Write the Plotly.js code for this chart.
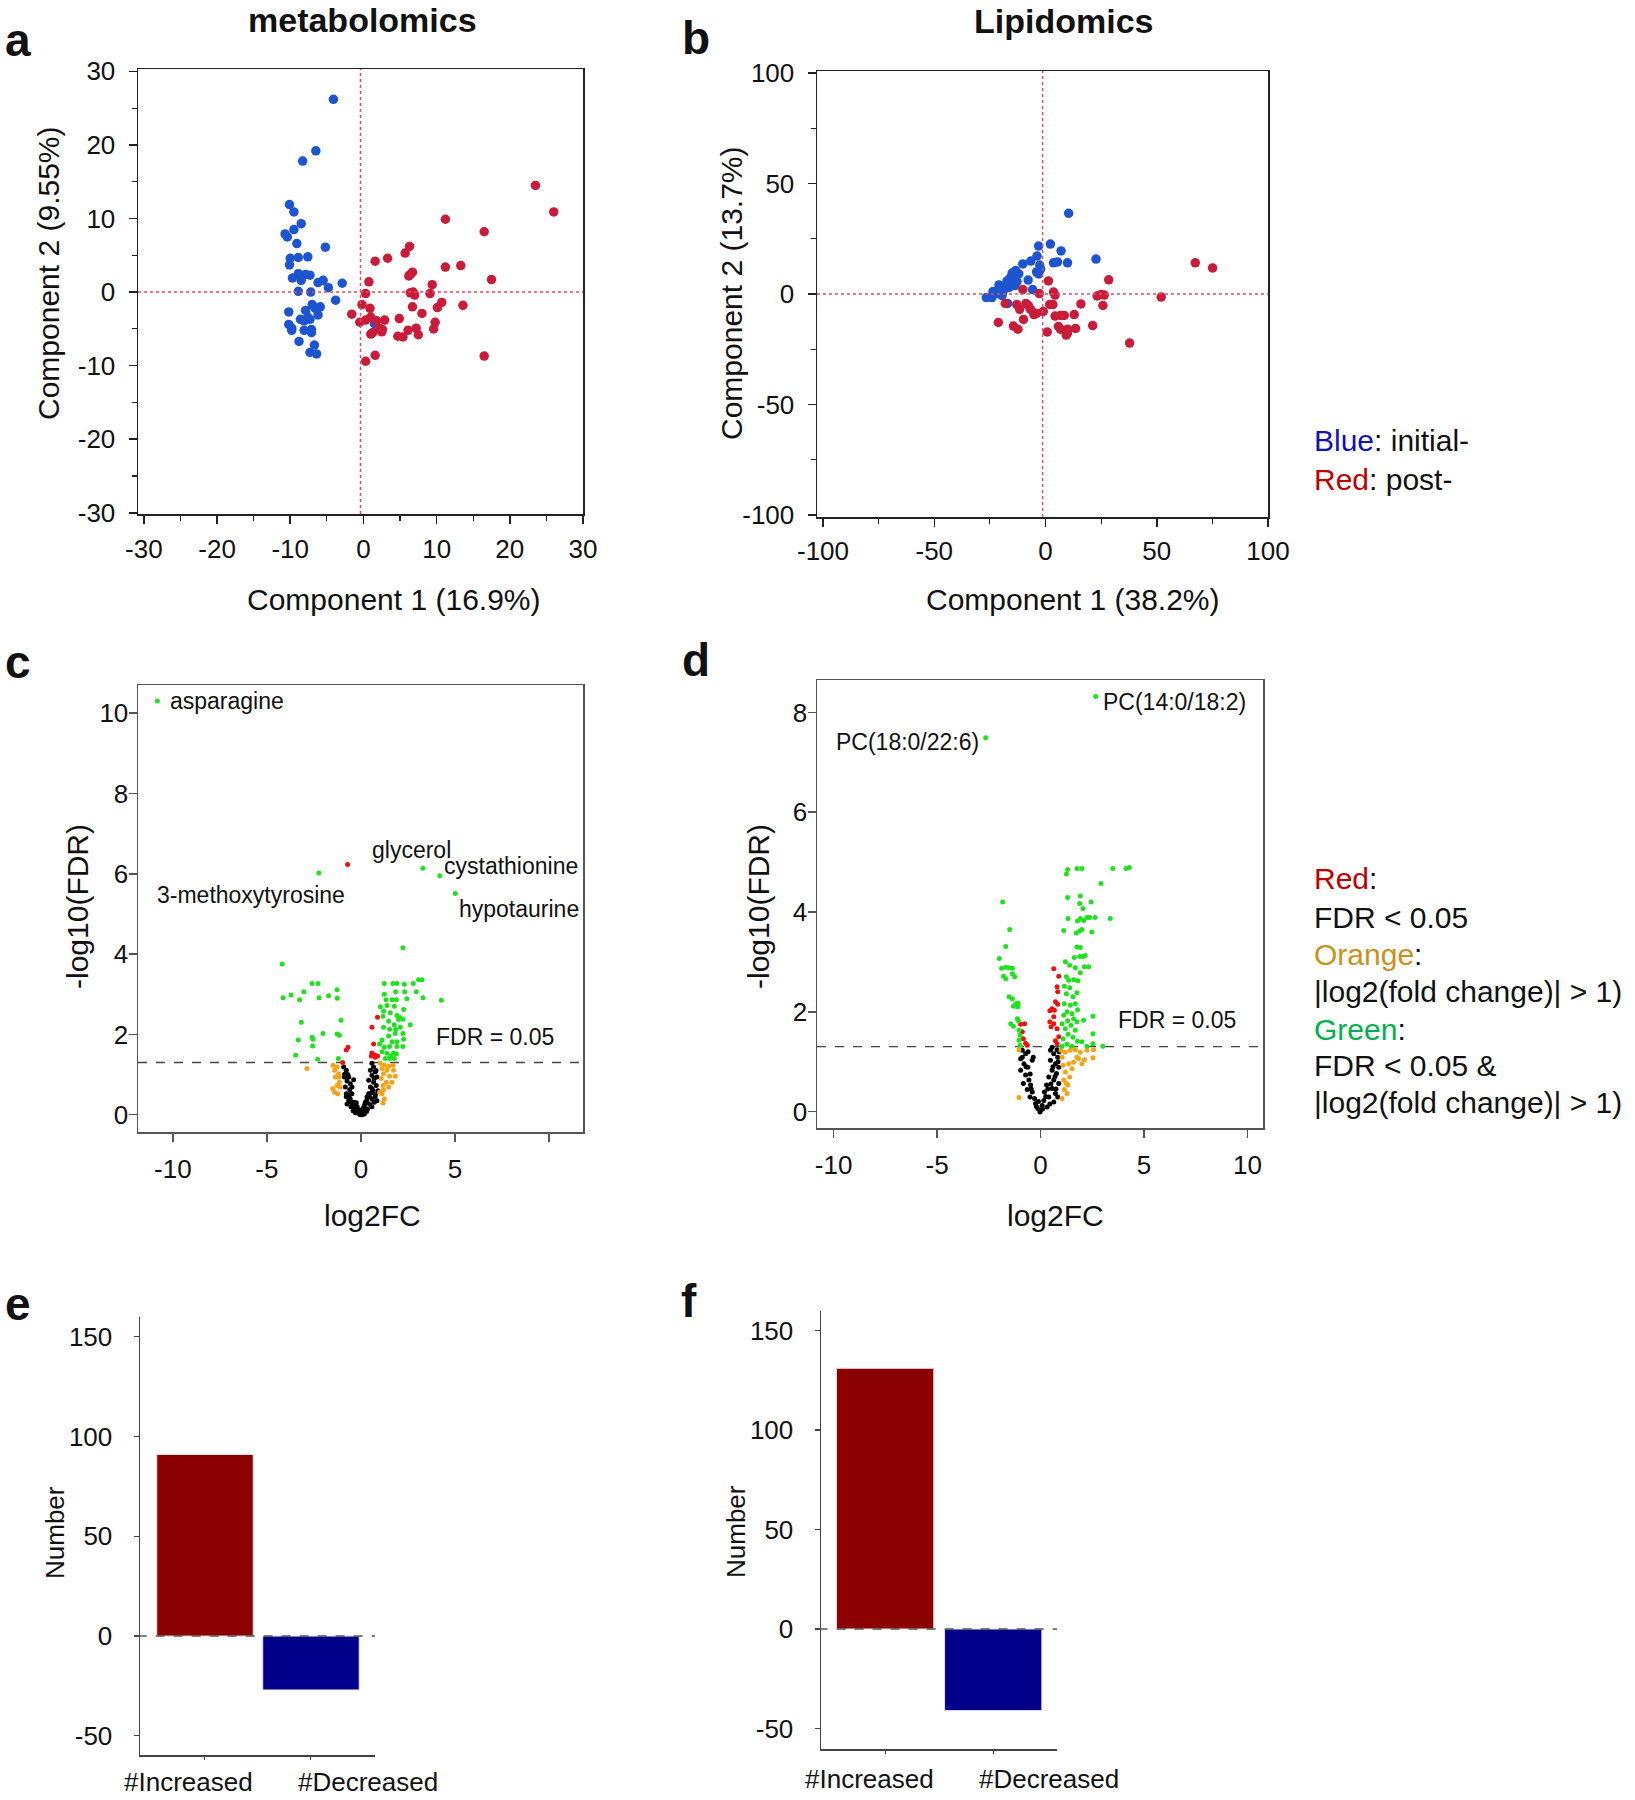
<!DOCTYPE html>
<html><head><meta charset="utf-8">
<script src="https://cdn.plot.ly/plotly-3.0.1.min.js"></script>
<style>html,body{margin:0;padding:0;background:#fff;}#chart{width:1635px;height:1800px;}</style>
</head><body><div id="chart"></div>
<script>
// ---------- PCA metabolomics (a) ----------
const metaBlueX = [-4.1,-6.5,-8.3,-10.1,-9.5,-8.5,-9.5,-10.7,-10.4,-9.1,
 -5.2,-10.0,-8.9,-7.6,-10.1,-8.9,-7.9,-7.3,-9.7,-8.5,
 -6.2,-5.5,-4.8,-2.9,-8.9,-7.2,-3.8,-10.2,-7.0,-6.6,
 -5.9,-7.9,-7.6,-6.2,-8.6,-8.1,-7.3,-10.2,-9.8,-9.8,
 -8.1,-7.1,-7.1,-8.8,-6.7,-7.3,-6.4,1.5];
const metaBlueY = [26.2,19.2,17.8,11.9,10.9,9.3,8.5,7.9,7.5,6.6,
 6.1,4.6,4.7,4.8,3.7,2.5,2.4,2.3,1.9,1.6,
 1.3,1.6,0.6,1.2,0.1,0.0,-1.1,-2.7,-1.7,-2.2,
 -2.0,-2.5,-3.4,-3.1,-3.7,-3.9,-3.7,-4.4,-4.9,-5.2,
 -5.2,-5.1,-5.5,-6.7,-7.2,-8.2,-8.4,-4.3];
const metaRedX = [23.5,26.0,11.2,16.5,6.3,5.7,3.3,1.6,13.3,11.2,
 6.7,6.4,6.2,17.5,0.75,9.4,0.3,6.4,6.8,7.0,
 9.1,10.7,10.1,13.6,6.7,-0.2,0.9,-1.6,8.0,1.0,
 2.9,4.9,-0.5,0.3,1.8,9.8,2.2,2.6,7.2,9.6,
 1.0,1.3,2.5,6.1,4.7,5.4,7.5,0.3,1.6,16.5];
const metaRedY = [14.5,10.9,9.9,8.2,6.2,5.3,4.6,4.2,3.6,3.4,
 2.7,2.4,2.2,1.7,1.4,1.0,-0.2,-0.1,0.0,-0.4,
 -0.2,-1.4,-2.1,-1.8,-2.0,-1.7,-2.2,-3.0,-2.9,-3.4,
 -3.8,-3.6,-4.1,-3.8,-3.9,-4.1,-4.9,-5.1,-4.9,-5.0,
 -5.7,-5.5,-5.4,-5.2,-6.0,-6.1,-5.8,-9.4,-8.6,-8.7];

// ---------- PCA lipidomics (b) ----------
const lipidBlueX = [10.4,2.2,-3.1,7.0,22.7,-3.8,3.6,5.4,9.9,-10.2,
 -6.6,-2.6,-2.2,-4.0,-3.1,-13.4,-12.0,-15.0,-7.8,-15.8,
 -14.0,-17.3,-12.8,-14.6,-18.2,-20.9,-16.4,-5.8,-23.6,-21.2,
 -19.5,-26.6,-24.1,-17.0,-19.1,-13.8];
const lipidBlueY = [36.5,22.6,21.7,19.5,15.8,17.2,14.1,14.5,14.1,13.6,
 14.9,13.1,11.3,10.0,9.1,10.6,9.1,9.5,6.3,7.3,
 6.4,5.9,5.6,4.1,3.4,4.1,2.9,2.0,1.1,0.2,
 -0.7,-1.6,-1.6,-4.3,1.1,3.8];
const lipidRedX = [67.3,75.1,28.4,1.3,-10.2,-2.8,3.6,4.3,23.2,25.0,
 26.4,52.0,-18.1,-12.9,-8.8,-7.7,-11.6,-6.7,1.9,3.3,
 15.9,25.8,-1.0,-5.2,4.3,6.8,8.4,12.9,-9.9,-21.2,
 -14.4,-12.4,5.8,0.8,6.7,9.9,13.5,21.2,9.3,9.9,
 37.8,-4.0];
const lipidRedY = [14.1,11.8,6.4,5.9,2.0,0.2,0.9,-0.5,-0.9,-0.2,
 -0.5,-1.4,-4.3,-4.8,-4.3,-5.2,-7.0,-7.0,-4.7,-4.8,
 -4.5,-5.2,-7.9,-9.3,-10.0,-9.7,-9.7,-9.3,-11.5,-12.9,
 -14.5,-15.9,-14.7,-17.2,-15.9,-15.9,-15.6,-14.3,-18.6,-17.7,
 -22.2,-8.8];

// ---------- Volcano metabolomics (c) ----------
const metGreenX = [-10.82,-2.24,3.29,4.19,5.01,
 -4.19,-2.60,-2.28,-3.04,-4.14,-3.72,-3.26,-2.23,-1.72,-1.27,
 -1.26,-3.17,-1.06,-3.33,-2.60,-2.55,-2.02,-1.27,-1.15,-2.57,
 -3.47,-2.30,-1.20,
 2.23,1.24,1.70,1.91,2.30,2.78,3.06,3.24,4.27,1.24,
 1.84,2.32,2.94,3.29,1.33,1.65,1.88,2.44,1.03,1.38,
 1.77,2.27,1.20,1.56,1.17,1.91,2.05,2.23,1.47,1.77,
 2.00,2.62,1.20,1.52,1.84,2.09,1.82,1.47,1.12,2.23,
 1.65,1.91,2.27,0.99,1.24,1.52,1.91,2.23,1.12,1.38,
 1.73,1.59,1.88,1.29,1.52,1.77];
const metGreenY = [10.30,6.02,6.14,5.95,5.51,
 3.75,3.27,3.27,3.06,2.91,2.98,2.86,2.91,2.96,3.11,
 2.90,2.30,2.35,1.86,1.93,1.88,2.02,2.01,1.98,1.71,
 1.48,1.38,1.40,
 4.16,3.27,3.27,3.27,3.25,3.27,3.36,3.36,2.85,3.00,
 3.06,3.06,3.06,2.91,2.86,2.86,2.86,2.89,2.69,2.72,
 2.70,2.62,2.58,2.54,2.45,2.47,2.43,2.38,2.33,2.24,
 2.37,2.24,2.18,2.13,2.12,2.18,2.02,1.96,1.86,2.02,
 1.82,1.82,1.88,1.76,1.68,1.70,1.70,1.70,1.57,1.53,
 1.54,1.46,1.51,1.40,1.40,1.40];
const metRedX = [-0.71,-0.69,-0.78,-0.97,0.88,0.58,0.67,0.58,0.73,0.55,0.88,0.76];
const metRedY = [6.23,1.68,1.61,1.30,2.43,2.18,1.76,1.54,1.49,1.46,1.46,1.43];
const metOrangeX = [-2.87,-1.49,-1.27,-1.40,-1.19,-1.36,-1.15,-1.27,-1.10,-1.50,
 -1.40,-1.24,-1.15,1.03,1.24,1.47,1.70,1.12,1.38,1.73,
 1.20,1.52,1.82,1.08,1.35,1.17,1.47,1.20,1.12,1.24,
 1.17,1.65,0.99];
const metOrangeY = [1.15,1.23,1.19,1.11,1.02,0.94,0.81,0.73,0.69,0.65,
 0.56,0.52,0.94,1.28,1.23,1.21,1.23,1.15,1.11,1.11,
 1.02,0.96,0.96,0.90,0.81,0.73,0.69,0.62,0.52,0.39,
 0.29,0.81,0.56];
const metBlackX = [-0.92,-0.78,-0.87,-0.65,-0.74,-0.57,-0.83,-0.60,-0.48,-0.78,
 -0.57,-0.39,-0.74,-0.53,-0.35,-0.21,-0.12,-0.04,-0.42,-0.30,
 -0.65,-0.78,-0.48,-0.39,-0.88,
 0.58,0.67,0.50,0.76,0.58,0.85,0.41,0.67,0.81,0.50,
 0.64,0.41,0.76,0.32,0.58,0.23,0.46,0.14,0.35,0.11,
 0.23,0.05,0.18,0.58,0.85,0.71,
 -0.30,0.30,-0.20,0.20,-0.50,0.45,-0.60,0.60,0.70,-0.70,
 0.80,0.90,-0.10,0.10,0.00,0.30,-0.25,0.55,0.75];
const metBlackY = [1.19,1.11,1.01,0.94,0.84,0.77,0.69,0.62,0.52,0.45,
 0.39,0.31,0.27,0.20,0.14,0.10,0.03,0.00,0.10,0.23,
 0.35,0.52,0.69,0.87,0.94,
 1.28,1.19,1.11,1.07,0.98,0.94,0.86,0.81,0.73,0.69,
 0.60,0.52,0.50,0.44,0.39,0.31,0.27,0.18,0.14,0.06,
 0.10,0.00,0.02,0.20,0.35,0.31,
 0.05,0.08,0.20,0.25,0.30,0.45,0.50,0.65,0.90,1.00,
 1.10,0.60,0.12,0.15,0.05,0.35,0.30,0.55,0.45];
const metLabelText = ['asparagine','3-methoxytyrosine','glycerol','cystathionine','hypotaurine'];
const metLabelX = [-10.23,-5.87,2.66,7.97,8.39];
const metLabelY = [10.30,5.46,6.59,6.19,5.13];
const metLabelAnchor = ['left','center','center','center','center'];

// ---------- Volcano lipidomics (d) ----------
const lipGreenX = [2.67,-2.65,
 -1.83,-1.49,-1.68,-1.99,-1.88,-1.68,-1.52,-1.36,-1.79,-1.68,
 -1.36,-1.25,-1.52,-1.36,-1.20,-1.09,-1.31,-1.09,-1.12,-1.07,
 -1.44,-1.31,-1.04,-0.99,-1.04,-0.99,
 1.31,1.25,1.76,2.00,3.49,4.13,4.29,2.92,1.31,1.92,
 1.89,2.05,2.44,1.33,1.79,1.92,2.08,2.24,2.37,2.64,
 3.37,1.12,1.73,1.89,2.00,2.48,1.76,1.92,1.63,1.89,
 2.05,2.16,1.20,1.41,1.68,2.12,2.32,1.92,1.25,1.36,
 1.60,1.81,1.15,1.41,1.76,1.25,1.57,1.15,1.44,1.68,
 1.79,1.28,1.52,1.12,1.60,1.31,1.76,2.08,2.53,1.04,
 1.47,1.20,1.68,1.33,1.57,2.53,1.09,1.79,2.00,1.28,
 2.53,3.01,1.04,1.52,2.24];
const lipGreenY = [8.32,7.49,
 4.20,3.65,3.31,3.07,2.87,2.89,2.88,2.87,2.71,2.66,
 2.76,2.70,2.30,2.26,2.16,2.17,2.11,2.10,1.86,1.82,
 1.76,1.71,1.63,1.53,1.43,1.33,
 4.85,4.76,4.87,4.87,4.87,4.87,4.89,4.57,4.29,4.32,
 4.17,4.07,4.20,3.87,3.82,3.87,3.83,3.89,3.89,3.89,
 3.87,3.63,3.58,3.62,3.65,3.60,3.30,3.29,3.09,3.11,
 3.11,3.13,3.00,2.93,2.88,2.90,2.90,2.78,2.70,2.63,
 2.64,2.62,2.51,2.48,2.38,2.36,2.30,2.16,2.13,2.16,
 2.04,2.00,1.96,1.93,1.86,1.82,1.80,1.83,1.91,1.76,
 1.73,1.66,1.63,1.55,1.49,1.56,1.46,1.41,1.40,1.35,
 1.36,1.31,1.31,1.31,1.31];
const lipRedX = [-0.96,-0.77,-0.88,-0.83,-0.72,-0.64,
 0.64,0.88,0.80,0.83,0.72,0.83,0.56,0.67,0.45,0.64,
 0.45,0.64,0.51,0.80,0.88,0.72,0.80];
const lipRedY = [1.75,1.76,1.60,1.46,1.37,1.33,
 2.86,2.71,2.50,2.40,2.20,2.15,2.06,2.03,2.02,1.90,
 1.80,1.76,1.70,1.66,1.50,1.42,1.36];
const lipOrangeX = [-1.04,-1.04,
 0.99,1.20,1.44,1.68,1.92,2.24,2.56,2.53,2.12,1.84,
 1.60,1.36,1.09,1.52,1.20,1.41,1.12,1.31,1.15,1.28,
 1.04,1.76,2.00,1.04,1.25];
const lipOrangeY = [0.28,1.24,
 1.23,1.19,1.23,1.24,1.19,1.23,1.24,1.08,1.04,1.06,
 0.99,0.96,0.93,0.86,0.79,0.69,0.63,0.53,0.44,0.36,
 0.26,1.09,0.96,1.09,0.56];
const lipBlackX = [-0.88,-0.72,-0.96,-0.80,-0.61,-0.96,-0.72,-0.56,-0.83,-0.48,
 -0.64,-0.40,-0.51,-0.29,-0.24,-0.13,-0.03,-0.40,-0.35,-0.88,
 0.56,0.80,0.64,0.83,0.48,0.72,0.88,0.56,0.77,0.40,
 0.64,0.88,0.29,0.56,0.19,0.72,0.40,0.16,0.64,0.08,
 0.32,0.00,0.83,0.48,
 -0.70,-0.50,-0.45,-0.20,0.25,0.50,0.70,0.85,0.60,0.35,
 0.10,-0.10,0.45,0.75,0.90,-0.60];
const lipBlackY = [1.23,1.16,1.06,0.96,0.89,0.83,0.73,0.63,0.56,0.53,
 0.44,0.39,0.29,0.26,0.16,0.06,-0.01,1.03,1.09,1.09,
 1.29,1.24,1.16,1.09,1.03,0.96,0.89,0.83,0.76,0.69,
 0.63,0.56,0.53,0.46,0.39,0.36,0.29,0.22,0.19,0.12,
 0.09,0.02,0.29,1.23,
 0.90,0.75,0.45,0.10,0.30,0.55,0.70,1.00,0.90,0.45,
 0.05,0.20,0.15,0.45,1.20,1.20];
const lipLabelText = ['PC(14:0/18:2)','PC(18:0/22:6)'];
const lipLabelX = [2.91,-2.86];
const lipLabelY = [8.21,7.40];
const lipLabelAnchor = ['left','right'];

const fdrCutoff = 0.05;

// ---------- Bar counts (e, f) ----------
const barCategories = ['#Increased','#Decreased'];
const metCounts = [91,-27];
const lipCounts = [131,-41];

// ---------- drawing ----------
const W = 1635, H = 1800;
const FONT = 'Liberation Sans, Arial, Helvetica, sans-serif';
const dx = (a,b) => [a/W, b/W];
const dy = (top,bot) => [1-bot/H, 1-top/H];
const PCA_BLUE = '#1d55d0', PCA_RED = '#c81c3a';
const V_GREEN = '#1fe21f', V_RED = '#ee1111', V_ORANGE = '#f5a316', V_BLACK = '#000000';

function pts(x,y,color,size,xa,ya){
  return {type:'scatter',mode:'markers',x:x,y:y,xaxis:xa,yaxis:ya,
    marker:{color:color,size:size,line:{width:0}},hoverinfo:'skip',showlegend:false};
}
const traces = [
  pts(metaBlueX,metaBlueY,PCA_BLUE,9.5,'x','y'),
  pts(metaRedX,metaRedY,PCA_RED,9.5,'x','y'),
  pts(lipidBlueX,lipidBlueY,PCA_BLUE,9.5,'x2','y2'),
  pts(lipidRedX,lipidRedY,PCA_RED,9.5,'x2','y2'),
  pts(metBlackX,metBlackY,V_BLACK,5,'x3','y3'),
  pts(metOrangeX,metOrangeY,V_ORANGE,5,'x3','y3'),
  pts(metRedX,metRedY,V_RED,5,'x3','y3'),
  pts(metGreenX,metGreenY,V_GREEN,5,'x3','y3'),
  pts(lipBlackX,lipBlackY,V_BLACK,5,'x4','y4'),
  pts(lipOrangeX,lipOrangeY,V_ORANGE,5,'x4','y4'),
  pts(lipRedX,lipRedY,V_RED,5,'x4','y4'),
  pts(lipGreenX,lipGreenY,V_GREEN,5,'x4','y4'),
  {type:'bar',x:barCategories,y:metCounts,xaxis:'x5',yaxis:'y5',width:0.91,
   marker:{color:['#8b0000','#00008b'],line:{color:'#e6e0e0',width:1}},hoverinfo:'skip',showlegend:false},
  {type:'bar',x:barCategories,y:lipCounts,xaxis:'x6',yaxis:'y6',width:0.9,
   marker:{color:['#8b0000','#00008b'],line:{color:'#e6e0e0',width:1}},hoverinfo:'skip',showlegend:false}
];

function boxAxis(domain, range, vals, anchor, opts){
  const o = Object.assign({
    domain:domain, range:range, anchor:anchor, tickmode:'array', tickvals:vals,
    ticktext: vals.map(v=>String(v)), showgrid:false, zeroline:false,
    showline:true, mirror:true, linecolor:'#222', linewidth:1.5,
    ticks:'outside', ticklen:8, tickwidth:1.5, tickcolor:'#222',
    tickfont:{family:FONT,size:26,color:'#111'}, ticklabelstandoff:8, fixedrange:true
  }, opts||{});
  return o;
}
const minor5 = {tickmode:'linear',tick0:0,dtick:5,ticks:'outside',ticklen:5,tickwidth:1.2,tickcolor:'#222',showgrid:false};
const minor25 = {tickmode:'linear',tick0:0,dtick:25,ticks:'outside',ticklen:5,tickwidth:1.2,tickcolor:'#222',showgrid:false};

const layout = {
  width:W, height:H, margin:{l:0,r:0,t:0,b:0}, paper_bgcolor:'#fff', plot_bgcolor:'#fff',
  showlegend:false, font:{family:FONT,color:'#111'},
  xaxis: boxAxis(dx(138,583),[-30.8,30],[-30,-20,-10,0,10,20,30],'y',{minor:minor5,ticklabelstandoff:3}),
  yaxis: boxAxis(dy(69,514),[-30.16,30.32],[-30,-20,-10,0,10,20,30],'x',{minor:minor5}),
  xaxis2: boxAxis(dx(817,1268),[-102.7,100],[-100,-50,0,50,100],'y2',{minor:minor25,ticklabelstandoff:2}),
  yaxis2: boxAxis(dy(71,517),[-100.9,100.9],[-100,-50,0,50,100],'x2',{minor:minor25}),
  xaxis3: boxAxis(dx(138,583),[-11.85,11.8],[-10,-5,0,5,10],'y3',
     {ticktext:['-10','-5','0','5',''],linecolor:'#555',tickcolor:'#555',ticklabelstandoff:5}),
  yaxis3: boxAxis(dy(685,1132),[-0.43,10.70],[0,2,4,6,8,10],'x3',
     {linecolor:'#555',tickcolor:'#555',ticklabelstandoff:-5}),
  xaxis4: boxAxis(dx(817,1263),[-10.8,10.75],[-10,-5,0,5,10],'y4',
     {linecolor:'#555',tickcolor:'#555',ticklabelstandoff:5}),
  yaxis4: boxAxis(dy(680,1128),[-0.33,8.65],[0,2,4,6,8],'x4',
     {linecolor:'#555',tickcolor:'#555',ticklabelstandoff:-5}),
  xaxis5: {domain:dx(140,375),range:[-0.613,1.604],anchor:'y5',type:'category',showgrid:false,zeroline:false,
     showline:true,linecolor:'#444',linewidth:1.5,ticks:'outside',ticklen:3,tickcolor:'#444',showticklabels:false,fixedrange:true},
  yaxis5: boxAxis(dy(1317,1755),[-59.6,159.9],[-50,0,50,100,150],'x5',
     {mirror:false,linecolor:'#444',tickcolor:'#444',ticklen:5,tickwidth:1.2,ticklabelstandoff:16}),
  xaxis6: {domain:dx(821,1057),range:[-0.593,1.59],anchor:'y6',type:'category',showgrid:false,zeroline:false,
     showline:true,linecolor:'#444',linewidth:1.5,ticks:'outside',ticklen:3,tickcolor:'#444',showticklabels:false,fixedrange:true},
  yaxis6: boxAxis(dy(1311,1749),[-60.3,159.8],[-50,0,50,100,150],'x6',
     {mirror:false,linecolor:'#444',tickcolor:'#444',ticklen:5,tickwidth:1.2,ticklabelstandoff:16}),
  shapes: [], annotations: []
};

const fdrY = -Math.log10(fdrCutoff);
const S = layout.shapes;
// PCA cross-hair lines
S.push({type:'line',xref:'x domain',yref:'y',x0:0,x1:1,y0:0,y1:0,line:{color:'#e8485f',width:1.5,dash:'dot'}});
S.push({type:'line',xref:'x',yref:'y domain',x0:-0.4,x1:-0.4,y0:0,y1:1,line:{color:'#e8485f',width:1.5,dash:'dot'}});
S.push({type:'line',xref:'x2 domain',yref:'y2',x0:0,x1:1,y0:0,y1:0,line:{color:'#d9506a',width:1.5,dash:'dot'}});
S.push({type:'line',xref:'x2',yref:'y2 domain',x0:-1.3,x1:-1.3,y0:0,y1:1,line:{color:'#d9506a',width:1.5,dash:'dot'}});
// FDR threshold lines
S.push({type:'line',xref:'x3 domain',yref:'y3',x0:0,x1:1,y0:fdrY,y1:fdrY,line:{color:'#444',width:1.3,dash:'dash'},layer:'below'});
S.push({type:'line',xref:'x4 domain',yref:'y4',x0:0,x1:1,y0:fdrY,y1:fdrY,line:{color:'#444',width:1.3,dash:'dash'},layer:'below'});
// zero lines in bar charts
S.push({type:'line',xref:'x5 domain',yref:'y5',x0:-0.01,x1:1,y0:0,y1:0,line:{color:'#555',width:1.5,dash:'dash'}});
S.push({type:'line',xref:'x6 domain',yref:'y6',x0:-0.01,x1:1,y0:0,y1:0,line:{color:'#555',width:1.5,dash:'dash'}});

const A = layout.annotations;
function pann(text,xp,yp,size,opts){
  A.push(Object.assign({text:text,xref:'paper',yref:'paper',x:xp/W,y:1-yp/H,showarrow:false,
    xanchor:'center',yanchor:'middle',font:{family:FONT,size:size,color:'#111'}},opts||{}));
}
// panel titles and letters
pann('<b>metabolomics</b>',362,20,34);
pann('<b>Lipidomics</b>',1063,21,34);
pann('<b>a</b>',18,40,46); pann('<b>b</b>',696,38,46);
pann('<b>c</b>',18,662,46); pann('<b>d</b>',696,660,46);
pann('<b>e</b>',18,1304,46); pann('<b>f</b>',689,1301,46);
// axis titles
pann('Component 1 (16.9%)',394,599,30);
pann('Component 2 (9.55%)',49,273,30,{textangle:-90});
pann('Component 1 (38.2%)',1073,600,30);
pann('Component 2 (13.7%)',731,293,30,{textangle:-90});
pann('log2FC',372,1215,30);
pann('-log10(FDR)',77,907,30,{textangle:-90});
pann('log2FC',1055,1215,30);
pann('-log10(FDR)',758,907,30,{textangle:-90});
pann('Number',55,1532,26,{textangle:-90});
pann('Number',736,1532,26,{textangle:-90});
// bar category labels
pann(barCategories[0],188,1782,26); pann(barCategories[1],368,1782,26);
pann(barCategories[0],869,1779,26); pann(barCategories[1],1049,1779,26);
// colour keys
pann('<span style="color:#1414b4">Blue</span>: initial-',1312,440,30,{xanchor:'left'});
pann('<span style="color:#c00000">Red</span>: post-',1312,479,30,{xanchor:'left'});
const key2 = ['<span style="color:#c00000">Red</span>:','FDR &lt; 0.05',
  '<span style="color:#c8921c">Orange</span>:','|log2(fold change)| &gt; 1)',
  '<span style="color:#00b04f">Green</span>:','FDR &lt; 0.05 &amp;','|log2(fold change)| &gt; 1)'];
const key2Y = [879,917,954,991,1029,1065,1102];
key2.forEach((t,i)=>pann(t,1312,key2Y[i],30,{xanchor:'left'}));
// volcano labels
metLabelText.forEach((t,i)=>A.push({text:t,xref:'x3',yref:'y3',x:metLabelX[i],y:metLabelY[i],showarrow:false,
  xanchor:metLabelAnchor[i],yanchor:'middle',font:{family:FONT,size:23,color:'#111'}}));
lipLabelText.forEach((t,i)=>A.push({text:t,xref:'x4',yref:'y4',x:lipLabelX[i],y:lipLabelY[i],showarrow:false,
  xanchor:lipLabelAnchor[i],yanchor:'middle',font:{family:FONT,size:23,color:'#111'}}));
A.push({text:'FDR = 0.05',xref:'x3',yref:'y3',x:3.86,y:1.94,showarrow:false,xanchor:'left',yanchor:'middle',font:{family:FONT,size:23,color:'#111'}});
A.push({text:'FDR = 0.05',xref:'x4',yref:'y4',x:3.67,y:1.84,showarrow:false,xanchor:'left',yanchor:'middle',font:{family:FONT,size:23,color:'#111'}});

Plotly.newPlot('chart',traces,layout,{displayModeBar:false,staticPlot:true});
</script></body></html>
